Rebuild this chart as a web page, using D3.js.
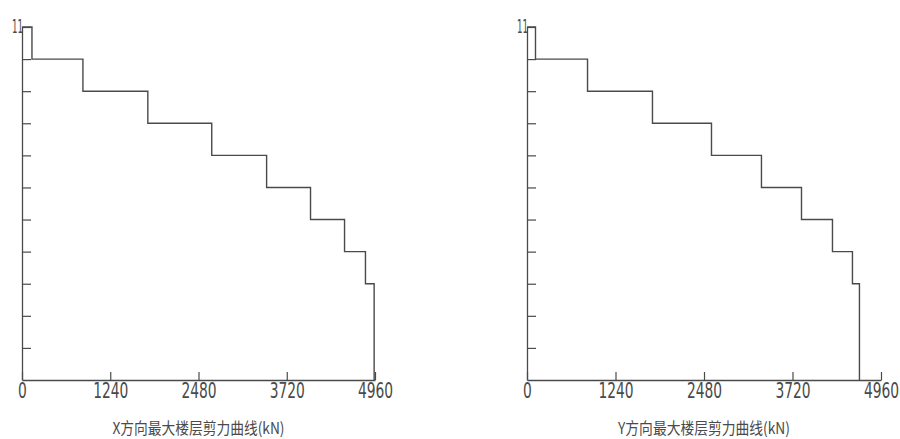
<!DOCTYPE html>
<html><head><meta charset="utf-8">
<script src="https://cdn.jsdelivr.net/npm/d3@7"></script>
<style>
html,body{margin:0;padding:0;background:#fff;}
svg{display:block;}
</style></head>
<body>
<svg id="chart" width="900" height="439"></svg>
<script>
// ---- data ----
const floors = [1,2,3,4,5,6,7,8,9,10,11];
const xShear = [4948,4948,4948,4826,4532,4054,3437,2666,1768,856,140];
const yShear = [4658,4658,4658,4560,4280,3846,3285,2585,1758,848,119];
const xTicks = [0,1240,2480,3720,4960];
const yTickLevels = [1,2,3,4,5,6,7,8,9,10,11];
const topLabel = "11";
const titles = ["X方向最大楼层剪力曲线(kN)", "Y方向最大楼层剪力曲线(kN)"];

const svg = d3.select("#chart");
const ink = "#4a4a4a";
const numFont = "'DejaVu Sans Condensed','Liberation Sans',sans-serif";

const panels = [
  {x0:22, x1:375, values:xShear, title:titles[0]},
  {x0:527, x1:881, values:yShear, title:titles[1]}
];
const yScale = d3.scaleLinear().domain([0,11]).range([380,27]);

function squeeze(sel, perChar) {
  sel.each(function() {
    const t = d3.select(this);
    const w = this.getComputedTextLength();
    const target = t.text().length * perChar;
    if (w > 0) {
      const ax = +t.attr("x") || 0;
      const sx = target / w;
      t.attr("transform", `translate(${ax*(1-sx)},0) scale(${sx},1)`);
    }
  });
}

panels.forEach(p => {
  const g = svg.append("g");
  const xScale = d3.scaleLinear().domain([0,4960]).range([p.x0,p.x1]);

  // x axis
  const xa = g.append("g").attr("transform",`translate(0,${yScale(0)})`)
    .call(d3.axisBottom(xScale).tickValues(xTicks).tickSizeInner(-8).tickSizeOuter(0).tickPadding(3).tickFormat(d3.format("d")));
  xa.select(".domain").attr("stroke",ink).attr("stroke-width",1.3);
  xa.selectAll(".tick line").attr("stroke",ink).attr("stroke-width",1.2);
  const xt = xa.selectAll(".tick text").attr("fill",ink).style("font-family",numFont).style("font-size","21px");
  squeeze(xt, 8.8);

  // y axis
  const ya = g.append("g").attr("transform",`translate(${p.x0},0)`)
    .call(d3.axisLeft(yScale).tickValues(yTickLevels).tickSizeInner(-9).tickSizeOuter(0).tickPadding(-1)
      .tickFormat(d => d === 11 ? topLabel : ""));
  ya.select(".domain").attr("stroke",ink).attr("stroke-width",1.3);
  ya.selectAll(".tick line").attr("stroke",ink).attr("stroke-width",1.2);
  const yt = ya.selectAll(".tick text").filter(d => d === 11)
    .attr("fill",ink).attr("dy","0.3em").style("font-family",numFont).style("font-size","19px");
  yt.attr("x", 1);
  squeeze(yt, 5.5);

  // step curve
  const pts = [[0,11]];
  for (let i = floors.length-1; i >= 0; i--) {
    pts.push([p.values[i], floors[i]]);
    pts.push([p.values[i], floors[i]-1]);
  }
  const line = d3.line().x(d => xScale(d[0])).y(d => yScale(d[1]));
  g.append("path").attr("d", line(pts)).attr("fill","none").attr("stroke",ink).attr("stroke-width",1.4);

  // title
  g.append("text").attr("x", xScale(2480)).attr("y", 434).attr("text-anchor","middle")
    .attr("fill",ink).style("font-family","'Noto Sans CJK SC',sans-serif").style("font-size","16px")
    .attr("textLength",172).attr("lengthAdjust","spacingAndGlyphs")
    .text(p.title);
});
</script>
</body></html>
